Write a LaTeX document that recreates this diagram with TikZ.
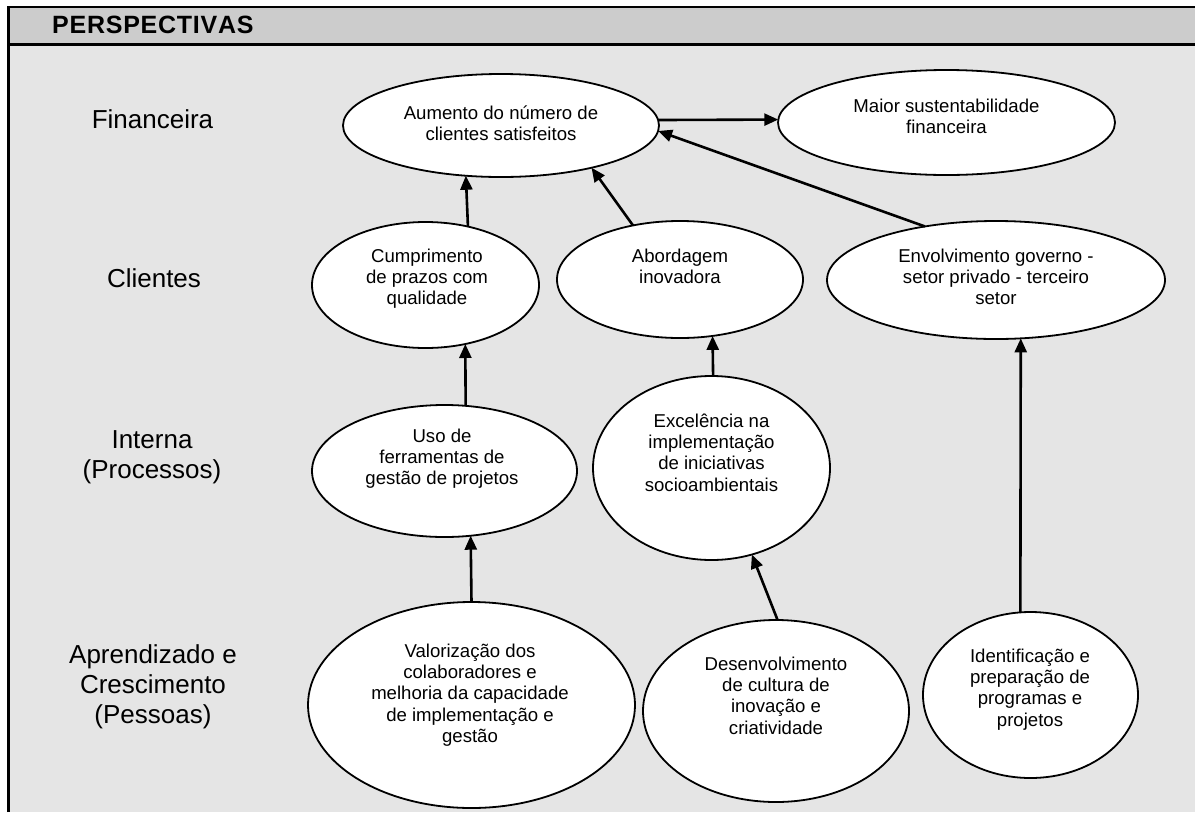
\documentclass[tikz,border=0pt]{standalone}
\usepackage{fontspec}
\setmainfont{Liberation Sans}
\newfontfamily\hdrfont{Liberation Sans}[LetterSpace=3,Kerning=Off]
\usetikzlibrary{arrows.meta,shapes.geometric}
\definecolor{headgray}{HTML}{CCCCCC}
\definecolor{bodygray}{HTML}{E5E5E5}
\tikzset{
  oval/.style={ellipse, draw=black, line width=1.8pt, fill=white, inner sep=0pt, outer sep=0pt},
  otext/.style={anchor=north, align=center, inner sep=0pt, font=\fontsize{18.6}{21.3}\selectfont},
  ltext/.style={anchor=north, align=center, inner sep=0pt, font=\fontsize{26}{30}\selectfont},
  arr/.style={line width=2.6pt, -{Triangle[length=14pt,width=12pt]}},
  frameline/.style={line width=2.5pt, black},
}
\begin{document}
\begin{tikzpicture}[x=1pt,y=-1pt]
\useasboundingbox (0,0) rectangle (1195,812);
\fill[white] (0,0) rectangle (1195,812);
\fill[headgray] (8.7,7) rectangle (1195,44.5);
\fill[bodygray] (8.7,44.5) rectangle (1195,812);
\draw[frameline] (8.7,812) -- (8.7,7) -- (1195,7);
\draw[frameline] (8.7,44.5) -- (1195,44.5);
\node[anchor=base west, inner sep=0pt, font=\hdrfont\fontsize{25}{29}\selectfont\bfseries] (hdr) at (52,33.5) {PERSPECTIVAS};

% row labels
\node[ltext] (lfin) at (152.5,107) {\strut Financeira};
\node[ltext] (lcli) at (154,266) {\strut Clientes};
\node[ltext] (lint) at (152,427) {\strut Interna\\(Processos)};
\node[ltext] (lapr) at (153,642) {\strut Aprendizado e\\Crescimento\\(Pessoas)};

% ellipses
\node[oval, minimum width=316pt, minimum height=103pt] (E1) at (501,125.5) {};
\node[oval, minimum width=337pt, minimum height=105pt] (E2) at (946.5,122.5) {};
\node[oval, minimum width=227pt, minimum height=126pt] (E3) at (425.5,285) {};
\node[oval, minimum width=246pt, minimum height=117pt] (E4) at (680,279.5) {};
\node[oval, minimum width=338pt, minimum height=118pt] (E5) at (996,280) {};
\node[oval, minimum width=265pt, minimum height=132pt] (E6) at (444.5,471) {};
\node[oval, minimum width=237pt, minimum height=184pt] (E7) at (711.5,468) {};
\node[oval, minimum width=327pt, minimum height=206pt] (E8) at (471.5,705) {};
\node[oval, minimum width=266pt, minimum height=182pt] (E9) at (776,711) {};
\node[oval, minimum width=215pt, minimum height=166pt] (E10) at (1030.5,695) {};

% ellipse texts
\node[otext] (T1) at (501,104.1) {\strut Aumento do número de\\clientes satisfeitos};
\node[otext] (T2) at (946.5,97.1) {\strut Maior sustentabilidade\\financeira};
\node[otext] (T3) at (427,247.1) {\strut Cumprimento\\de prazos com\\qualidade};
\node[otext] (T4) at (680,247.1) {\strut Abordagem\\inovadora};
\node[otext] (T5) at (996,247.1) {\strut Envolvimento governo -\\setor privado - terceiro\\setor};
\node[otext] (T6) at (442,427.1) {\strut Uso de\\ferramentas de\\gestão de projetos};
\node[otext] (T7) at (711.5,412.1) {\strut Excelência na\\implementação\\de iniciativas\\socioambientais};
\node[otext] (T8) at (470,642.1) {\strut Valorização dos\\colaboradores e\\melhoria da capacidade\\de implementação e\\gestão};
\node[otext] (T9) at (776,655.1) {\strut Desenvolvimento\\de cultura de\\inovação e\\criatividade};
\node[otext] (T10) at (1030,647.1) {\strut Identificação e\\preparação de\\programas e\\projetos};

% connectors
\draw[arr] (E1.2) -- (E2.179.15);
\draw[arr] (E3.54.7) -- (E1.235.95);
\draw[arr] (E4.131) -- (E1.-25.8);
\draw[arr] (E5.143.9) -- (E1.-2.75);
\draw[arr] (E6.72.55) -- (E3.-56.25);
\draw[arr] (E7.89.7) -- (E4.-60.5);
\draw[arr] (E8.90.8) -- (E6.-68.5);
\draw[arr] (E9.89.6) -- (E7.-65.6);
\draw[arr] (E10.97.2) -- (E5.-67.66);
\end{tikzpicture}
\end{document}
